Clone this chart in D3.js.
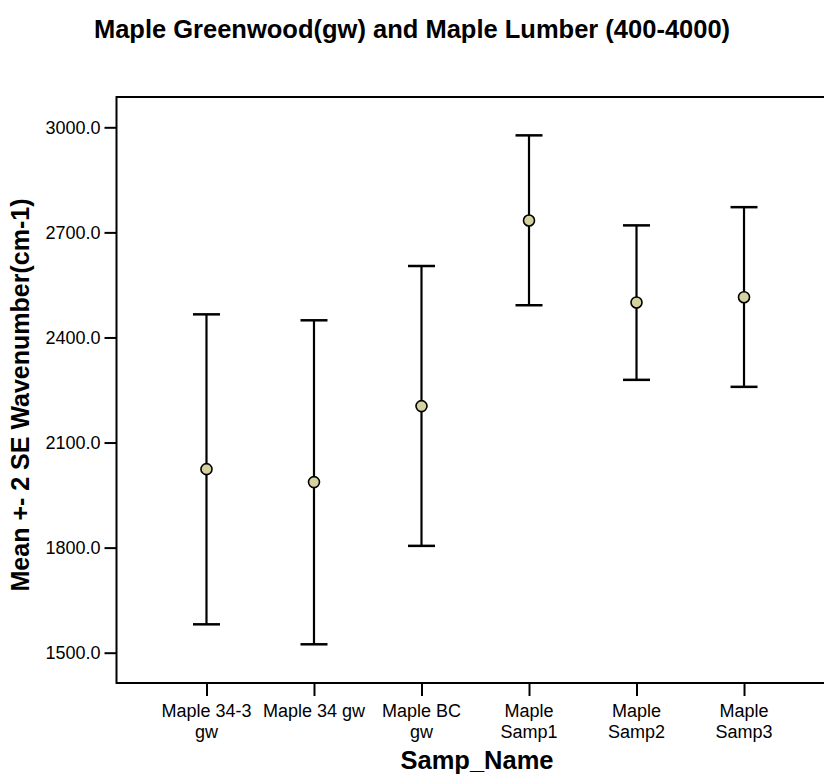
<!DOCTYPE html>
<html>
<head>
<meta charset="utf-8">
<script src="https://cdn.jsdelivr.net/npm/d3@7.9.0/dist/d3.min.js"></script>
<style>
  body { margin: 0; background: #fff; }
  text { font-family: Arial, "Liberation Sans", sans-serif; fill: #000; }
</style>
</head>
<body>
<div id="chart"></div>
<script>
// data
const categories = ["Maple 34-3 gw", "Maple 34 gw", "Maple BC gw", "Maple Samp1", "Maple Samp2", "Maple Samp3"];
const tickLines = [["Maple 34-3", "gw"], ["Maple 34 gw"], ["Maple BC", "gw"], ["Maple", "Samp1"], ["Maple", "Samp2"], ["Maple", "Samp3"]];
const means = [2024, 1987, 2204, 2734, 2500, 2515];
const lower = [1581, 1524, 1805, 2492, 2279, 2259];
const upper = [2466, 2449, 2604, 2977, 2720, 2772];
const yTicks = [1500, 1800, 2100, 2400, 2700, 3000];

const W = 824, H = 777;
const frame = { left: 116.5, right: 834, top: 97, bottom: 683 };

const svg = d3.select("#chart").append("svg")
  .attr("width", W).attr("height", H);

const x = d3.scalePoint()
  .domain(categories)
  .range([frame.left, frame.right])
  .padding(0.837);

const y = d3.scaleLinear()
  .domain([1500, 3000])
  .range([652.7, 127.3]);

// frame (right side runs off the page)
svg.append("path")
  .attr("d", `M${frame.right},${frame.top}H${frame.left}V${frame.bottom}H${frame.right}`)
  .attr("fill", "none")
  .attr("stroke", "#000")
  .attr("stroke-width", 2);

// y axis ticks
const yAxis = svg.append("g")
  .attr("transform", `translate(${frame.left},0)`)
  .call(d3.axisLeft(y).tickValues(yTicks).tickFormat(d3.format(".1f")).tickSize(12).tickPadding(4));
yAxis.select(".domain").remove();
yAxis.selectAll(".tick line").attr("stroke-width", 2);
yAxis.selectAll(".tick text")
  .style("font-size", "18px")
  .style("font-family", "Arial, 'Liberation Sans', sans-serif");

// x axis ticks
const xAxis = svg.append("g")
  .attr("transform", `translate(0,${frame.bottom})`)
  .call(d3.axisBottom(x).tickSize(13).tickFormat(""));
xAxis.select(".domain").remove();
xAxis.selectAll(".tick line").attr("stroke-width", 2);

// multi-line tick labels
categories.forEach((c, i) => {
  const t = svg.append("text")
    .attr("x", x(c))
    .attr("y", 717)
    .attr("text-anchor", "middle")
    .style("font-size", "18px");
  tickLines[i].forEach((line, j) => {
    t.append("tspan")
      .attr("x", x(c))
      .attr("dy", j === 0 ? 0 : 21)
      .text(line);
  });
});

// error bars
const capHalf = 13.5;
const bars = svg.append("g");
categories.forEach((c, i) => {
  const cx = x(c);
  bars.append("line")
    .attr("x1", cx).attr("x2", cx)
    .attr("y1", y(upper[i])).attr("y2", y(lower[i]))
    .attr("stroke", "#000").attr("stroke-width", 2.2);
  [upper[i], lower[i]].forEach(v => {
    bars.append("line")
      .attr("x1", cx - capHalf).attr("x2", cx + capHalf)
      .attr("y1", y(v)).attr("y2", y(v))
      .attr("stroke", "#000").attr("stroke-width", 2.5);
  });
});

// means
svg.append("g").selectAll("circle")
  .data(categories)
  .join("circle")
    .attr("cx", d => x(d))
    .attr("cy", (d, i) => y(means[i]))
    .attr("r", 5.5)
    .attr("fill", "#d6d2a0")
    .attr("stroke", "#000")
    .attr("stroke-width", 1.6);

// title
svg.append("text")
  .attr("x", 412)
  .attr("y", 38)
  .attr("text-anchor", "middle")
  .style("font-size", "25.5px")
  .style("font-weight", "bold")
  .text("Maple Greenwood(gw) and Maple Lumber (400-4000)");

// axis titles
svg.append("text")
  .attr("transform", "rotate(-90)")
  .attr("x", -395)
  .attr("y", 29)
  .attr("text-anchor", "middle")
  .style("font-size", "25px")
  .style("font-weight", "bold")
  .text("Mean +- 2 SE Wavenumber(cm-1)");

svg.append("text")
  .attr("x", 477)
  .attr("y", 769)
  .attr("text-anchor", "middle")
  .style("font-size", "25.5px")
  .style("font-weight", "bold")
  .text("Samp_Name");
</script>
</body>
</html>
